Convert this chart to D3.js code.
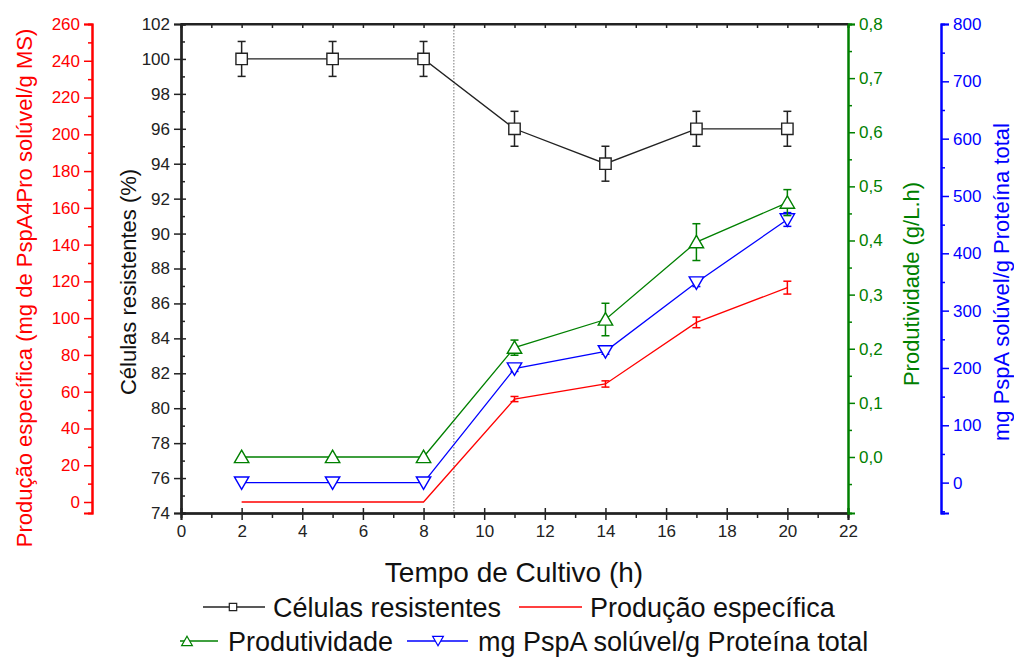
<!DOCTYPE html>
<html>
<head>
<meta charset="utf-8">
<script src="https://cdn.jsdelivr.net/npm/d3@7"></script>
<style>
  body { margin: 0; background: #fff; }
  svg text { font-family: "Liberation Sans", Arial, sans-serif; }
</style>
</head>
<body>
<div id="chart"></div>
<script>
// dados
const tempo = [2, 5, 8, 11, 14, 17, 20];
const celulas = [100, 100, 100, 96, 94, 96, 96];
const celulasErr = [1, 1, 1, 1, 1, 1, 1];
const producao = [0, 0, 0, 56, 64.2, 97.7, 116.6];
const producaoErr = [0, 0, 0, 1.4, 1.7, 2.9, 3.5];
const produtividade = [0, 0, 0, 0.202, 0.254, 0.397, 0.470];
const produtividadeErr = [0, 0, 0, 0.014, 0.03, 0.034, 0.024];
const pspa = [0, 0, 0, 199, 229, 349, 459];
const pspaErr = [0, 0, 0, 5, 5, 7, 12];

const xTicks = d3.range(0, 23, 2);
const celTicks = d3.range(74, 103, 2);
const redTicks = d3.range(0, 261, 20);
const greenTicks = d3.range(0, 0.81, 0.1);
const blueTicks = d3.range(0, 801, 100);

const width = 1014, height = 658;
const plotLeft = 181, plotRight = 848, plotTop = 24, plotBottom = 513;
const tickFont = 17;

const svg = d3.select("#chart").append("svg")
    .attr("width", width)
    .attr("height", height);

const x = d3.scaleLinear().domain([0, 22]).range([plotLeft, plotRight]);
const yCel = d3.scaleLinear().domain([74, 102]).range([plotBottom, plotTop]);
const yRed = d3.scaleLinear().domain([-5.98, 260]).range([plotBottom, plotTop]);
const yGreen = d3.scaleLinear().domain([-0.1035, 0.8]).range([plotBottom, plotTop]);
const yBlue = d3.scaleLinear().domain([-53, 800]).range([plotBottom, plotTop]);

function styleAxis(g, color) {
    g.selectAll("path").attr("stroke", color).attr("stroke-width", 2);
    g.selectAll("line").attr("stroke", color).attr("stroke-width", 1.5);
    g.selectAll("text").attr("fill", color).style("font-size", tickFont + "px")
        .style("font-family", "'Liberation Sans', Arial, sans-serif");
}

// linha vertical pontilhada em t = 9
svg.append("line")
    .attr("x1", x(9)).attr("x2", x(9))
    .attr("y1", plotTop).attr("y2", plotBottom)
    .attr("stroke", "#777")
    .attr("stroke-width", 1)
    .attr("stroke-dasharray", "1.5,1.5");

// eixo x inferior
const xMinor = d3.range(1, 22, 2);
svg.append("g").attr("transform", `translate(0,${plotBottom})`)
    .call(d3.axisBottom(x).tickValues(xMinor).tickSize(5).tickFormat(""))
    .call(g => styleAxis(g, "#222"));
svg.append("g").attr("transform", `translate(0,${plotBottom})`)
    .call(d3.axisTop(x).tickValues(xTicks).tickSize(5).tickFormat(""))
    .call(g => styleAxis(g, "#222"));
svg.append("g").attr("transform", `translate(0,${plotBottom})`)
    .call(d3.axisBottom(x).tickValues(xTicks).tickSize(7).tickPadding(5))
    .call(g => styleAxis(g, "#222"));

// eixo x superior
svg.append("g").attr("transform", `translate(0,${plotTop})`)
    .call(d3.axisBottom(x).tickValues(d3.range(0, 23, 1)).tickSize(4).tickFormat(""))
    .call(g => styleAxis(g, "#222"));

// eixo esquerdo preto (celulas)
const celMinor = d3.range(75, 102, 2);
svg.append("g").attr("transform", `translate(${plotLeft},0)`)
    .call(d3.axisRight(yCel).tickValues(celMinor).tickSize(4).tickFormat(""))
    .call(g => styleAxis(g, "#222"));
svg.append("g").attr("transform", `translate(${plotLeft},0)`)
    .call(d3.axisRight(yCel).tickValues(celTicks).tickSize(5).tickFormat(""))
    .call(g => styleAxis(g, "#222"));
svg.append("g").attr("transform", `translate(${plotLeft},0)`)
    .call(d3.axisLeft(yCel).tickValues(celTicks).tickSize(7).tickPadding(4))
    .call(g => styleAxis(g, "#222"));

// eixo vermelho
const redMinor = d3.range(10, 260, 20);
svg.append("g").attr("transform", "translate(92,0)")
    .call(d3.axisLeft(yRed).tickValues(redMinor).tickSize(4).tickFormat(""))
    .call(g => styleAxis(g, "red"));
svg.append("g").attr("transform", "translate(92,0)")
    .call(d3.axisLeft(yRed).tickValues(redTicks).tickSize(8).tickPadding(4))
    .call(g => styleAxis(g, "red"));

// eixo verde
const greenMinor = d3.range(-0.05, 0.8, 0.1);
const fmtComma = d => d3.format(".1f")(d).replace(".", ",");
svg.append("g").attr("transform", `translate(${plotRight},0)`)
    .call(d3.axisRight(yGreen).tickValues(greenMinor).tickSize(4).tickFormat(""))
    .call(g => styleAxis(g, "green"));
svg.append("g").attr("transform", `translate(${plotRight},0)`)
    .call(d3.axisRight(yGreen).tickValues(greenTicks).tickSize(7).tickPadding(4).tickFormat(fmtComma))
    .call(g => styleAxis(g, "green"));

// eixo azul
const blueMinor = d3.range(-50, 800, 100);
svg.append("g").attr("transform", "translate(941,0)")
    .call(d3.axisRight(yBlue).tickValues(blueMinor).tickSize(4).tickFormat(""))
    .call(g => styleAxis(g, "blue"));
svg.append("g").attr("transform", "translate(941,0)")
    .call(d3.axisRight(yBlue).tickValues(blueTicks).tickSize(8).tickPadding(4))
    .call(g => styleAxis(g, "blue"));

// moldura superior
svg.append("line").attr("x1", plotLeft).attr("x2", plotRight).attr("y1", plotTop).attr("y2", plotTop)
    .attr("stroke", "#222").attr("stroke-width", 2);

// titulos
function vTitle(xPos, yPos, color, label) {
    svg.append("text")
        .attr("transform", `translate(${xPos},${yPos}) rotate(-90)`)
        .attr("text-anchor", "middle").attr("fill", color)
        .style("font-size", "22px")
        .text(label);
}
vTitle(32, 288, "red", "Produção específica (mg de PspA4Pro solúvel/g MS)");
vTitle(136, 282, "#111", "Células resistentes (%)");
vTitle(919, 284, "green", "Produtividade (g/L.h)");
vTitle(1009, 282, "blue", "mg PspA solúvel/g Proteína total");

svg.append("text")
    .attr("x", 514).attr("y", 582)
    .attr("text-anchor", "middle").attr("fill", "#111")
    .style("font-size", "28px")
    .text("Tempo de Cultivo (h)");

// series
const series = [
    { vals: producao, err: producaoErr, y: yRed, color: "red", marker: null },
    { vals: pspa, err: pspaErr, y: yBlue, color: "blue", marker: "down" },
    { vals: produtividade, err: produtividadeErr, y: yGreen, color: "green", marker: "up" },
    { vals: celulas, err: celulasErr, y: yCel, color: "#222", marker: "square" }
];

function markerPath(kind, size) {
    const type = kind === "square" ? d3.symbolSquare : d3.symbolTriangle;
    return d3.symbol().type(type).size(size)();
}
function markerTransform(kind, cx, cy) {
    if (kind === "up") return `translate(${cx},${cy + 1.5})`;
    if (kind === "down") return `translate(${cx},${cy - 1.5}) rotate(180)`;
    return `translate(${cx},${cy})`;
}

series.forEach(s => {
    const pts = tempo.map((t, i) => ({ t: t, v: s.vals[i], e: s.err[i] }));
    const line = d3.line().x(d => x(d.t)).y(d => s.y(d.v));
    svg.append("path")
        .datum(pts)
        .attr("d", line)
        .attr("fill", "none")
        .attr("stroke", s.color)
        .attr("stroke-width", 1.3);

    const eb = svg.append("g");
    pts.filter(d => d.e > 0).forEach(d => {
        const cx = x(d.t), y1 = s.y(d.v - d.e), y2 = s.y(d.v + d.e);
        eb.append("line").attr("x1", cx).attr("x2", cx).attr("y1", y1).attr("y2", y2)
            .attr("stroke", s.color).attr("stroke-width", 1.5);
        [y1, y2].forEach(yy => eb.append("line")
            .attr("x1", cx - 4).attr("x2", cx + 4).attr("y1", yy).attr("y2", yy)
            .attr("stroke", s.color).attr("stroke-width", 1.5));
    });

    if (s.marker) {
        svg.selectAll(null)
            .data(pts)
            .enter()
            .append("path")
            .attr("d", markerPath(s.marker, s.marker === "square" ? 130 : 90))
            .attr("transform", d => markerTransform(s.marker, x(d.t), s.y(d.v)))
            .attr("fill", "white")
            .attr("stroke", s.color)
            .attr("stroke-width", 1.4);
    }
});

// legenda
const legendItems = [
    { label: "Células resistentes", color: "#222", marker: "square", x0: 203, x1: 265, mx: 233, tx: 273, row: 0 },
    { label: "Produção específica", color: "red", marker: null, x0: 519, x1: 582, mx: 0, tx: 590, row: 0 },
    { label: "Produtividade", color: "green", marker: "up", x0: 180, x1: 218, mx: 187, tx: 228, row: 1 },
    { label: "mg PspA solúvel/g Proteína total", color: "blue", marker: "down", x0: 407, x1: 468, mx: 438, tx: 478, row: 1 }
];
const rowY = [607, 641];

legendItems.forEach(item => {
    const cy = rowY[item.row];
    svg.append("line").attr("x1", item.x0).attr("x2", item.x1).attr("y1", cy).attr("y2", cy)
        .attr("stroke", item.color).attr("stroke-width", 1.3);
    if (item.marker) {
        svg.append("path")
            .attr("d", markerPath(item.marker, item.marker === "square" ? 55 : 50))
            .attr("transform", markerTransform(item.marker, item.mx, cy))
            .attr("fill", "white")
            .attr("stroke", item.color)
            .attr("stroke-width", 1.2);
    }
    svg.append("text")
        .attr("x", item.tx).attr("y", cy + 10)
        .attr("fill", "#111")
        .style("font-size", "27px")
        .text(item.label);
});
</script>
</body>
</html>
